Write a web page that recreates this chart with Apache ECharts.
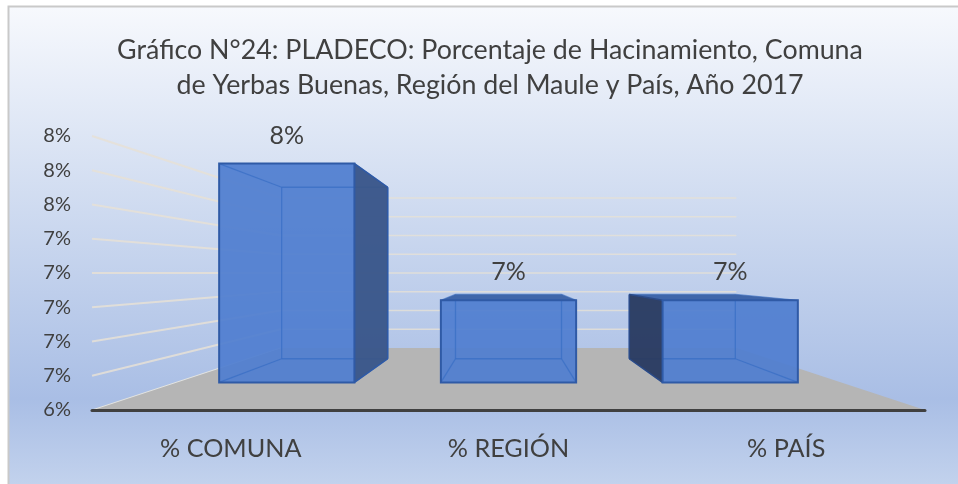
<!DOCTYPE html>
<html>
<head>
<meta charset="utf-8">
<style>html,body{margin:0;padding:0;background:#fff}#c{width:958px;height:484px}</style>
<script src="https://cdn.jsdelivr.net/npm/echarts@6/dist/echarts.min.js"></script>
</head>
<body>
<div id="c"></div>
<script>
var titleText = 'Gráfico N°24: PLADECO: Porcentaje de Hacinamiento, Comuna\nde Yerbas Buenas, Región del Maule y País, Año 2017';
var categories = ['% COMUNA', '% REGIÓN', '% PAÍS'];
var values = [8.0, 7.0, 7.0];
var tickValues = [6.4, 6.6, 6.8, 7.0, 7.2, 7.4, 7.6, 7.8, 8.0];

var AXIS_MIN = 6.4, AXIS_MAX = 8.0, HORIZON = 7.2;
var BACK = 0.547, BAR_FRONT = 0.7985, BAR_BACK = 0.626, BAR_HALF = 0.305;
var FONT = 'Lato';

function vanish(api) {
  return api.coord([1, HORIZON]);
}
function proj(vp, p, s) {
  return [vp[0] + s * (p[0] - vp[0]), vp[1] + s * (p[1] - vp[1])];
}
function poly(points, fill, z2) {
  return { type: 'polygon', z2: z2 || 0, silent: true, shape: { points: points }, style: { fill: fill, stroke: null } };
}
function seg(a, b, stroke, w, z2) {
  return { type: 'line', z2: z2 || 0, silent: true, shape: { x1: a[0], y1: a[1], x2: b[0], y2: b[1] }, style: { stroke: stroke, lineWidth: w, fill: null } };
}

function renderFloor(params, api) {
  var vp = vanish(api);
  var cs = params.coordSys;
  var l = cs.x, r = cs.x + cs.width, y = api.coord([1, AXIS_MIN])[1];
  return poly([[l, y], [r, y], proj(vp, [r, y], BACK), proj(vp, [l, y], BACK)], '#b5b5b5');
}
function renderGrid(params, api) {
  var vp = vanish(api);
  var cs = params.coordSys;
  var l = cs.x, r = cs.x + cs.width, y = api.coord([1, api.value(0)])[1];
  var b1 = proj(vp, [l, y], BACK), b2 = proj(vp, [r, y], BACK);
  if (api.value(0) === AXIS_MIN) {
    return { type: 'group', children: [seg([l, y], b1, 'rgba(232,232,226,0.9)', 1)] };
  }
  return { type: 'group', children: [
    seg([l, y], b1, 'rgba(230,225,214,0.85)', 2),
    seg(b1, b2, 'rgba(230,225,214,0.8)', 1.6)
  ]};
}
function renderBar(params, api) {
  var vp = vanish(api);
  var top = api.coord([api.value(0), api.value(1)]);
  var base = api.coord([api.value(0), AXIS_MIN]);
  var half = api.size([1, 0])[0] * BAR_HALF;
  var cx = top[0];
  var TL = [cx - half, top[1]], TR = [cx + half, top[1]], BL = [cx - half, base[1]], BR = [cx + half, base[1]];
  var f = function (p) { return proj(vp, p, BAR_FRONT); };
  var b = function (p) { return proj(vp, p, BAR_BACK); };
  var fTL = f(TL), fTR = f(TR), fBL = f(BL), fBR = f(BR), bTL = b(TL), bTR = b(TR), bBL = b(BL), bBR = b(BR);
  var kids = [];
  var inner = 'rgba(52,108,195,0.65)';
  var outer = '#2f5aa6';
  kids.push(poly([fTL, fTR, fBR, fBL], 'rgba(80,126,208,0.93)', 4));
  [[bTL, bTR], [bTR, bBR], [bBR, bBL], [bBL, bTL], [fTL, bTL], [fTR, bTR], [fBL, bBL], [fBR, bBR]].forEach(function (s) {
    kids.push(seg(s[0], s[1], inner, 1.3, 6));
  });
  if (fTR[0] < vp[0]) {
    kids.push(poly([fTR, bTR, bBR, fBR], 'rgba(58,87,138,0.97)', 7));
    kids.push(seg(fTR, bTR, outer, 1.5, 8), seg(bTR, bBR, outer, 1.5, 8), seg(fBR, bBR, outer, 1.5, 8));
  }
  if (fTL[0] > vp[0]) {
    kids.push(poly([fTL, bTL, bBL, fBL], 'rgba(42,60,98,0.97)', 7));
    kids.push(seg(fTL, bTL, '#2b4a86', 1.5, 8), seg(bTL, bBL, '#2b4a86', 1.5, 8), seg(fBL, bBL, '#2b4a86', 1.5, 8));
  }
  if (fTL[1] > vp[1]) {
    kids.push(poly([fTL, fTR, bTR, bTL], '#3f66aa', 7));
  }
  kids.push({ type: 'polygon', z2: 9, silent: true, shape: { points: [fTL, fTR, fBR, fBL] }, style: { fill: null, stroke: outer, lineWidth: 2 } });
  kids.push({ type: 'text', z2: 10, silent: true, x: (fTL[0] + fTR[0]) / 2, y: fTL[1] - 28,
    style: { text: Math.round(api.value(1)) + '%', font: '25px ' + FONT, fill: '#404040', align: 'center', verticalAlign: 'middle' } });
  return { type: 'group', children: kids };
}

var chart = echarts.init(document.getElementById('c'), null, { renderer: 'canvas' });
chart.setOption({
  animation: false,
  backgroundColor: '#ffffff',
  graphic: [{
    type: 'rect', z: -10, silent: true, shape: { x: 8.5, y: 6.5, width: 960, height: 490 },
    style: {
      stroke: '#c9c9c9', lineWidth: 2,
      fill: { type: 'linear', x: 0, y: 0, x2: 0, y2: 1, colorStops: [
        { offset: 0, color: '#f7f9fd' }, { offset: 0.45, color: '#cbd8ef' },
        { offset: 0.8, color: '#a9bee5' }, { offset: 1, color: '#c6d5ee' }
      ] }
    }
  }],
  title: {
    text: titleText, left: 485, top: 28, textAlign: 'center',
    textStyle: { fontFamily: FONT, fontWeight: 'normal', fontSize: 26.8, lineHeight: 35, color: '#404040' }
  },
  grid: { left: 92, right: 33, top: 136, bottom: 74 },
  xAxis: {
    type: 'category', data: categories, z: 10,
    axisLine: { show: true, onZero: false, lineStyle: { color: '#404040', width: 3, cap: 'round' } },
    axisTick: { show: false },
    splitLine: { show: false },
    axisLabel: { color: '#404040', fontFamily: FONT, fontSize: 25.2, margin: 26 }
  },
  yAxis: {
    type: 'value', min: AXIS_MIN, max: AXIS_MAX, interval: 0.2,
    axisLine: { show: false }, axisTick: { show: false }, splitLine: { show: false },
    axisLabel: {
      color: '#404040', fontFamily: FONT, fontSize: 20, margin: 21, padding: [3, 0, 0, 0],
      formatter: function (v) { return Math.round(v) + '%'; }
    }
  },
  series: [
    { type: 'custom', name: 'floor', z: 1, silent: true, renderItem: renderFloor, data: [[1, AXIS_MIN]], encode: { x: 0, y: 1 } },
    { type: 'custom', name: 'grid', z: 2, silent: true, renderItem: renderGrid, data: tickValues.map(function (v) { return [v]; }), encode: { y: 0 } },
    { type: 'custom', name: 'bars', z: 3, silent: true, renderItem: renderBar, data: values.map(function (v, i) { return [i, v]; }), encode: { x: 0, y: 1 } }
  ]
});
</script>
</body>
</html>
